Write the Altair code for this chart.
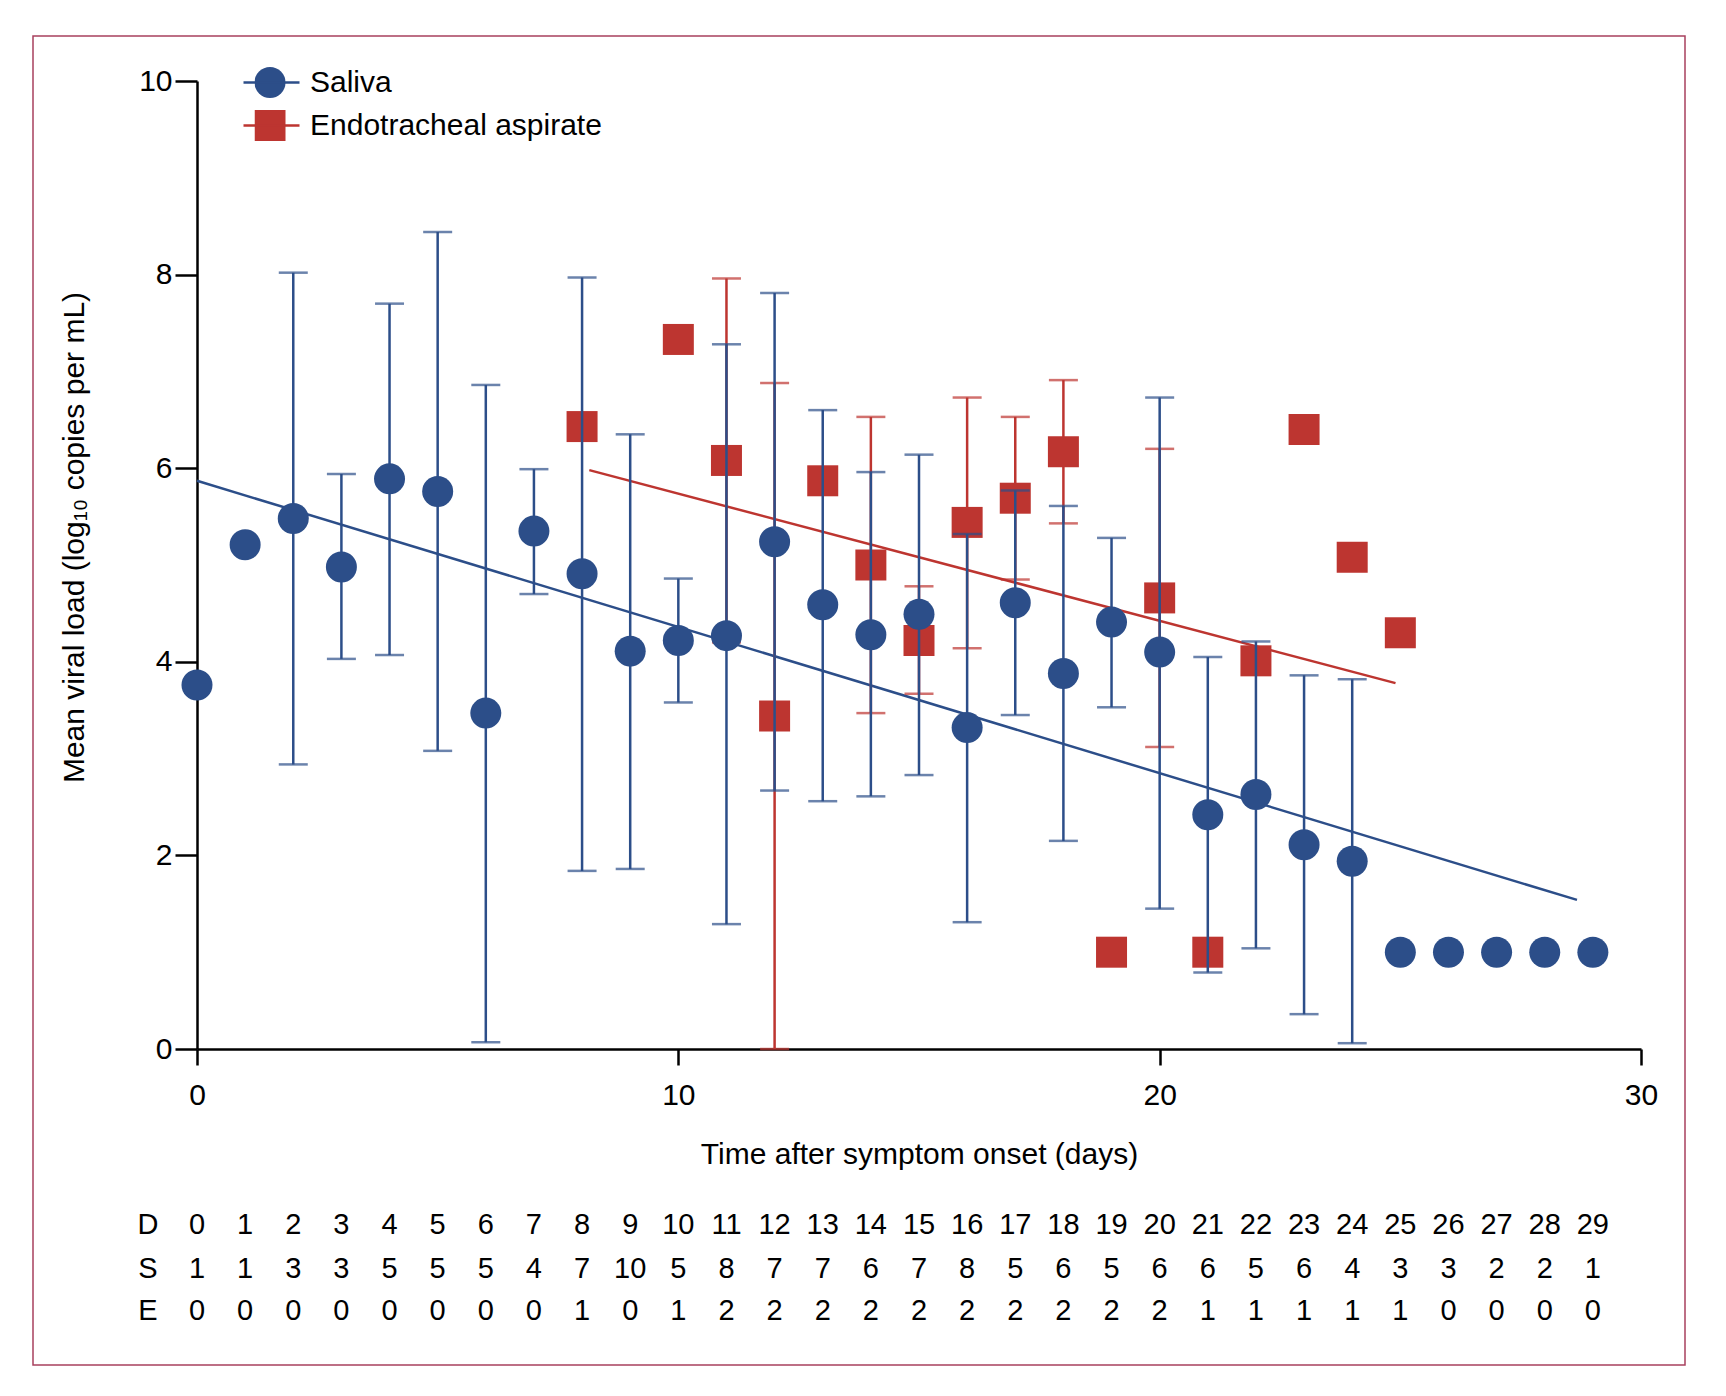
import altair as alt
import pandas as pd

# ---- data ----
days = list(range(30))
saliva_mean = [3.76, 5.21, 5.48, 4.98, 5.89, 5.76, 3.47, 5.35, 4.91, 4.11,
               4.22, 4.27, 5.24, 4.59, 4.28, 4.49, 3.32, 4.61, 3.88, 4.41,
               4.10, 2.42, 2.63, 2.11, 1.94, 1.00, 1.00, 1.00, 1.00, 1.00]
saliva_upper = [None, None, 8.02, 5.94, 7.70, 8.44, 6.86, 5.99, 7.97, 6.35,
                4.86, 7.28, 7.81, 6.60, 5.96, 6.14, 5.32, 5.77, 5.61, 5.28,
                6.73, 4.05, 4.21, 3.86, 3.82, None, None, None, None, None]
saliva_lower = [None, None, 2.94, 4.03, 4.07, 3.08, 0.07, 4.70, 1.84, 1.86,
                3.58, 1.29, 2.67, 2.56, 2.61, 2.83, 1.31, 3.45, 2.15, 3.53,
                1.45, 0.79, 1.04, 0.36, 0.06, None, None, None, None, None]

et_days = [8, 10, 11, 12, 13, 14, 15, 16, 17, 18, 19, 20, 21, 22, 23, 24, 25]
et_mean = [6.43, 7.33, 6.08, 3.44, 5.87, 5.00, 4.22, 5.44, 5.69, 6.17,
           1.00, 4.66, 1.00, 4.01, 6.40, 5.08, 4.30]
et_upper = [None, None, 7.96, 6.88, None, 6.53, 4.78, 6.73, 6.53, 6.91,
            None, 6.20, None, None, None, None, None]
et_lower = [None, None, 4.20, 0.00, None, 3.47, 3.67, 4.14, 4.85, 5.43,
            None, 3.12, None, None, None, None, None]

fit_saliva_x = [0.0, 28.67]
fit_saliva_y = [5.87, 1.54]
fit_et_x = [8.15, 24.9]
fit_et_y = [5.98, 3.78]

n_saliva = [1, 1, 3, 3, 5, 5, 5, 4, 7, 10, 5, 8, 7, 7, 6,
            7, 8, 5, 6, 5, 6, 6, 5, 6, 4, 3, 3, 2, 2, 1]
n_et = [0, 0, 0, 0, 0, 0, 0, 0, 1, 0, 1, 2, 2, 2, 2,
        2, 2, 2, 2, 2, 2, 1, 1, 1, 1, 1, 0, 0, 0, 0]

series_names = ["Saliva", "Endotracheal aspirate"]
BLUE = "#2c4e89"
RED = "#bd3530"
FONT = "Liberation Sans"

# ---- tables ----
sal = pd.DataFrame({"day": days, "mean": saliva_mean, "upper": saliva_upper,
                    "lower": saliva_lower, "series": "Saliva"})
et = pd.DataFrame({"day": et_days, "mean": et_mean, "upper": et_upper,
                   "lower": et_lower, "series": "Endotracheal aspirate"})
sal_err = sal.dropna(subset=["upper"])
et_err = et.dropna(subset=["upper"])
fits = pd.DataFrame({
    "x": fit_saliva_x + fit_et_x,
    "y": fit_saliva_y + fit_et_y,
    "fit": ["Saliva"] * 2 + ["Endotracheal aspirate"] * 2,
})
table = pd.DataFrame({"day": days, "d": [str(d) for d in days],
                      "s": [str(v) for v in n_saliva], "e": [str(v) for v in n_et]})
row_labels = pd.DataFrame({"lab": ["D", "S", "E"], "yy": [1144, 1188, 1230]})

xs = alt.Scale(domain=[0, 30], nice=False, zero=False)
ys = alt.Scale(domain=[0, 10], nice=False, zero=False)

X = alt.X("day:Q", scale=xs, axis=alt.Axis(
    values=[0, 10, 20, 30], title="Time after symptom onset (days)", format="d",
    tickSize=16, labelPadding=15, labelFlush=False,
    titleY=105, titleBaseline="middle", grid=False))
Y = alt.Y("mean:Q", scale=ys, axis=alt.Axis(
    values=[0, 2, 4, 6, 8, 10], title="Mean viral load (log₁₀ copies per mL)", format="d",
    tickSize=22, labelPadding=3, labelFlush=False,
    titleX=-123, titleY=456, titleAngle=270,
    titleAlign="center", titleBaseline="middle", grid=False))

fill_scale = alt.Scale(domain=series_names, range=[BLUE, RED])
shape_scale = alt.Scale(domain=series_names, range=["circle", "square"])
sym_legend = alt.Legend(title=None, orient="none", legendX=57.5, legendY=-20,
                        symbolSize=961, labelFontSize=30, labelOffset=24.5,
                        labelLimit=0, clipHeight=43, rowPadding=0, padding=0,
                        symbolStrokeWidth=0, symbolOpacity=1, labelFont=FONT,
                        labelColor="black")
line_legend = alt.Legend(title=None, orient="none", legendX=45, legendY=-20,
                         symbolType="stroke", symbolSize=3136, symbolStrokeWidth=2.5,
                         labelFontSize=30, labelOpacity=0, labelExpr="''",
                         clipHeight=43, rowPadding=0, padding=0, labelFont=FONT)

border = alt.Chart(pd.DataFrame({"k": [0]})).mark_rect(
    fill="transparent", stroke="#a8405e", strokeWidth=1.5).encode(
    x=alt.value(-164), x2=alt.value(1488), y=alt.value(-45), y2=alt.value(1284))


def err_layers(df, color):
    rules = alt.Chart(df).mark_rule(color=color, strokeWidth=2.5).encode(
        x=alt.X("day:Q", scale=xs), y=alt.Y("lower:Q", scale=ys), y2="upper:Q")
    caps = alt.Chart(df).transform_fold(["lower", "upper"], as_=["k", "v"]).mark_tick(
        color=color, orient="horizontal", size=29, thickness=2.5).encode(
        x=alt.X("day:Q", scale=xs), y=alt.Y("v:Q", scale=ys))
    return rules + caps


def points(df):
    return alt.Chart(df).mark_point(filled=True, size=961, opacity=1, strokeWidth=0).encode(
        x=X, y=Y,
        fill=alt.Fill("series:N", scale=fill_scale, legend=sym_legend),
        shape=alt.Shape("series:N", scale=shape_scale, legend=sym_legend),
    )


lines = alt.Chart(fits).mark_line(strokeWidth=2.5).encode(
    x=alt.X("x:Q", scale=xs), y=alt.Y("y:Q", scale=ys),
    stroke=alt.Stroke("fit:N", scale=fill_scale, legend=line_legend),
    detail="fit:N",
)


def table_row(field, ypix):
    return alt.Chart(table).mark_text(fontSize=29, font=FONT, color="black",
                                      baseline="middle", align="center").encode(
        x=alt.X("day:Q", scale=xs), y=alt.value(ypix), text=f"{field}:N")


labels = alt.Chart(row_labels).mark_text(
    fontSize=29, font=FONT, color="black", baseline="middle", align="center").encode(
    x=alt.value(-49), y=alt.Y("yy:Q", scale=None), text="lab:N")

chart = alt.layer(
    border,
    lines,
    err_layers(et_err, RED),
    points(et),
    err_layers(sal_err, BLUE),
    points(sal),
    table_row("d", 1144),
    table_row("s", 1188),
    table_row("e", 1230),
    labels,
).resolve_legend(stroke="independent").properties(
    width=1444, height=968,
    background="white",
    autosize=alt.AutoSizeParams(type="none"),
    padding={"left": 189, "top": 73, "right": 60, "bottom": 320},
).configure_view(stroke=None).configure_axis(
    grid=False, domainColor="black", tickColor="black", domainWidth=2.5, tickWidth=2.5,
    labelFontSize=30, titleFontSize=30, labelFont=FONT, titleFont=FONT,
    labelColor="black", titleColor="black", titleFontWeight="normal",
)

chart.save("out.html", embed_options={"renderer": "svg", "actions": False})
